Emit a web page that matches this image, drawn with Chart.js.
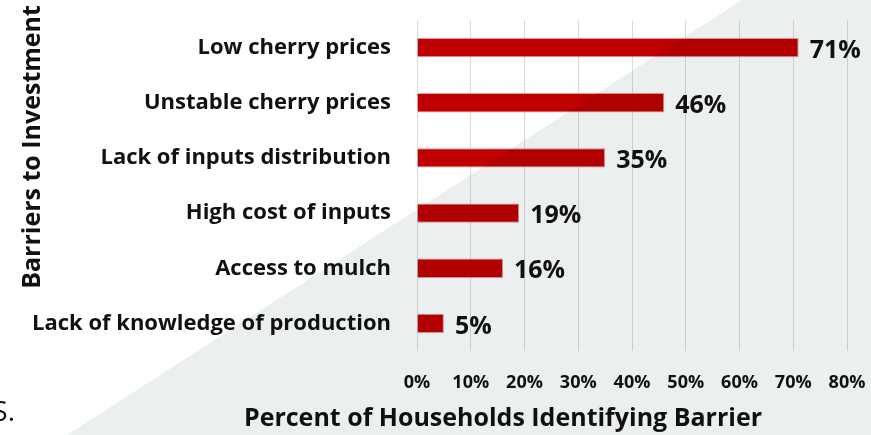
<!DOCTYPE html>
<html>
<head>
<meta charset="utf-8">
<script src="https://cdn.jsdelivr.net/npm/chart.js@4.4.1/dist/chart.umd.min.js"></script>
<style>
    html, body { margin: 0; padding: 0; background: #fff; }
    #wrap { width: 871px; height: 435px; position: relative; }
</style>
</head>
<body>
<div id="wrap"><canvas id="barrierChart" width="871" height="435"></canvas></div>
<script>
const barriers = [
    "Low cherry prices",
    "Unstable cherry prices",
    "Lack of inputs distribution",
    "High cost of inputs",
    "Access to mulch",
    "Lack of knowledge of production"
];
const percents = [71, 46, 35, 19, 16, 5];
const xTicks = [0, 10, 20, 30, 40, 50, 60, 70, 80];
const xTitle = "Percent of Households Identifying Barrier";
const yTitle = "Barriers to Investment";

const FONT = "'Open Sans', Lato, sans-serif";

// grey diagonal backdrop, multiplied over everything so bars go darker under it
const backdrop = {
    id: "backdrop",
    afterDraw(chart) {
        const c = chart.ctx;
        c.save();
        c.globalCompositeOperation = "multiply";
        c.fillStyle = "#eceff0";
        c.beginPath();
        c.moveTo(742, 0);
        c.lineTo(871, 0);
        c.lineTo(871, 435);
        c.lineTo(67, 435);
        c.closePath();
        c.fill();
        c.restore();
    }
};

// value labels + axis titles
const labels = {
    id: "labels",
    afterDatasetsDraw(chart) {
        const c = chart.ctx;
        const meta = chart.getDatasetMeta(0);
        c.save();
        c.fillStyle = "#111";
        c.font = "bold 25px " + FONT;
        c.textAlign = "left";
        c.textBaseline = "middle";
        meta.data.forEach((bar, i) => {
            c.fillText(percents[i] + "%", bar.x + 11, bar.y + 3);
        });

        c.textAlign = "center";
        c.fillText(xTitle, 503, 419);

        c.save();
        c.translate(33, 147);
        c.rotate(-Math.PI / 2);
        c.fillText(yTitle, 0, 0);
        c.restore();

        c.font = "28px " + FONT;
        c.textAlign = "right";
        c.textBaseline = "alphabetic";
        c.fillText("S.", 15, 421);
        c.restore();
    }
};

new Chart(document.getElementById("barrierChart"), {
    type: "bar",
    data: {
        labels: barriers,
        datasets: [{
            data: percents,
            backgroundColor: "#c00000",
            borderColor: "rgba(225,110,110,0.7)",
            borderWidth: 1,
            barPercentage: 0.35,
            categoryPercentage: 1
        }]
    },
    options: {
        indexAxis: "y",
        responsive: false,
        animation: false,
        layout: { padding: { left: 0, top: 20, right: 24, bottom: 0 } },
        plugins: {
            legend: { display: false },
            tooltip: { enabled: false }
        },
        scales: {
            x: {
                min: 0,
                max: 80,
                afterFit(scale) {
                    scale.height = 84;
                    scale.paddingLeft = 0;
                    scale.paddingRight = 0;
                },
                afterBuildTicks(scale) { scale.ticks = xTicks.map(v => ({ value: v })); },
                grid: { color: "#d9d9d9", drawTicks: false },
                border: { display: false },
                ticks: {
                    padding: 21,
                    color: "#111",
                    font: { family: FONT, size: 18, weight: "bold" },
                    callback: v => v + "%"
                }
            },
            y: {
                afterFit(scale) {
                    scale.width = 417;
                    scale.paddingTop = 0;
                    scale.paddingBottom = 0;
                },
                grid: { display: false, drawTicks: false },
                border: { display: false },
                ticks: {
                    padding: 26,
                    color: "#111",
                    font: { family: FONT, size: 22, weight: "bold" }
                }
            }
        }
    },
    plugins: [labels, backdrop]
});
</script>
</body>
</html>
